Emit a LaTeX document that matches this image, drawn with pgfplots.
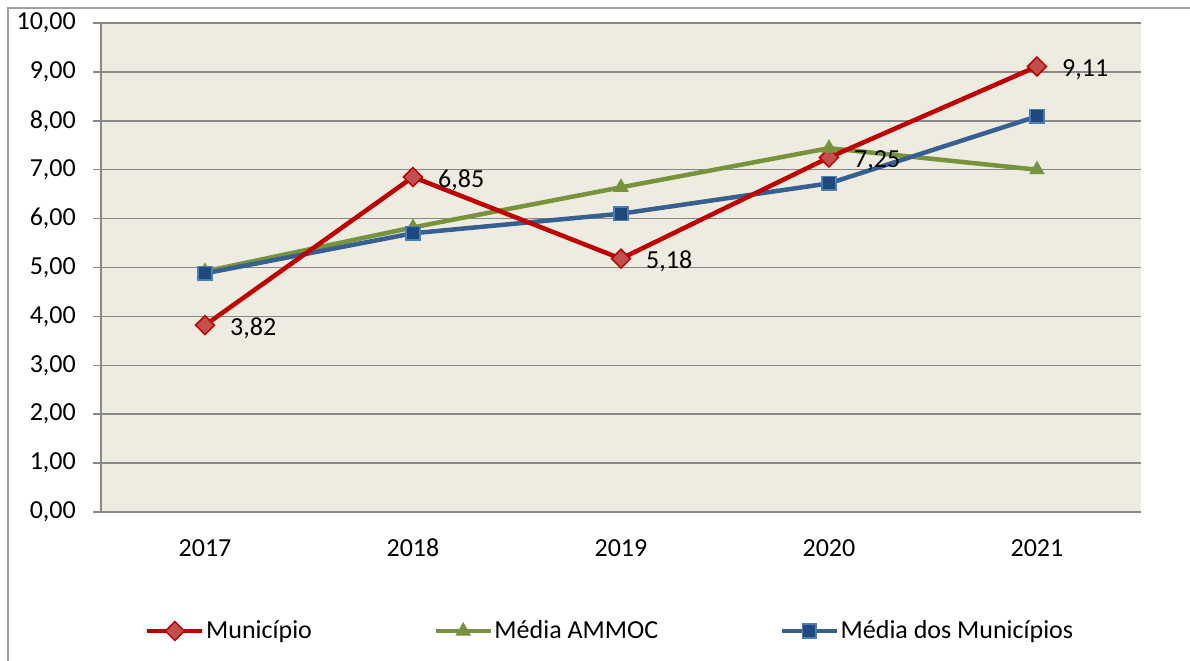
\documentclass[border=0pt]{standalone}
\usepackage{pgfplots}
\pgfplotsset{compat=1.18}
\usepackage{fontspec}
\setmainfont{Carlito}
\definecolor{bgc}{HTML}{EEECE1}
\definecolor{redl}{HTML}{C00000}
\definecolor{redm}{HTML}{C0504D}
\definecolor{greenl}{HTML}{77933C}
\definecolor{bluel}{HTML}{376092}
\definecolor{bluem}{HTML}{1F497D}
\definecolor{bluee}{HTML}{4A7EBB}
\definecolor{gridc}{HTML}{888888}
\definecolor{framec}{HTML}{A0A0A0}
\pgfplotsset{
  redleg/.style={legend image code/.code={\draw[redl, line width=4.5bp] (0bp,0bp) -- (55bp,0bp); \draw[##1] plot coordinates {(27.5bp,0bp)};}},
  greenleg/.style={legend image code/.code={\draw[greenl, line width=4.5bp] (0bp,0bp) -- (55bp,0bp); \draw[##1] plot coordinates {(27.5bp,0bp)};}},
  blueleg/.style={legend image code/.code={\draw[bluel, line width=4.5bp] (0bp,0bp) -- (55bp,0bp); \draw[##1] plot coordinates {(27.5bp,0bp)};}},
}
\begin{document}
\fontsize{26bp}{30bp}\selectfont
\begin{tikzpicture}
\useasboundingbox (0bp,0bp) rectangle (1190bp,661bp);
\draw[color=framec, line width=1.2bp] (8bp,-5bp) -- (8bp,653bp) -- (1195bp,653bp);
\begin{axis}[
  at={(101bp,149bp)}, anchor=south west,
  width=1040bp, height=489bp, scale only axis,
  xmin=-0.5, xmax=4.5, ymin=0, ymax=10,
  xtick={0,1,2,3,4}, xticklabels={2017,2018,2019,2020,2021},
  ytick={0,1,...,10},
  axis background/.style={fill=bgc},
  axis x line*=bottom, axis y line*=left,
  ymajorgrids, major grid style={gridc, line width=1.5bp},
  axis line style={gridc, line width=1.5bp},
  x tick style={draw=none},
  y tick style={gridc, line width=1.5bp},
  major tick length=8bp, tick align=outside,
  /pgf/number format/assume math mode=true,
  yticklabel style={/pgf/number format/use comma, /pgf/number format/fixed, /pgf/number format/fixed zerofill, /pgf/number format/precision=2, inner sep=0pt, xshift=-17bp},
  x tick label style={inner sep=0pt, yshift=-19bp},
  tick label style={font=\fontsize{26bp}{30bp}\selectfont},
  legend columns=3,
  legend style={at={(0.4894,-0.2434)}, anchor=center, draw=none, fill=none,
    font=\fontsize{26bp}{30bp}\selectfont, inner sep=0pt,
    nodes={inner sep=1.5bp},
    /tikz/every even column/.append style={column sep=120bp}},
  clip=false,
]
% lines
\addplot[forget plot, greenl, line width=4.5bp, mark=none] coordinates {(0,4.92) (1,5.82) (2,6.64) (3,7.44) (4,7.00)};
\addplot[forget plot, bluel, line width=4.5bp, mark=none] coordinates {(0,4.88) (1,5.70) (2,6.10) (3,6.72) (4,8.09)};
\addplot[forget plot, redl, line width=4.5bp, mark=none] coordinates {(0,3.82) (1,6.85) (2,5.18) (3,7.25) (4,9.11)};
% marks
\addplot[only marks, mark=square*, mark size=6.7bp, mark options={rotate=45, fill=redm, draw=redl, line width=1.5bp}, redleg]
  coordinates {(0,3.82) (1,6.85) (2,5.18) (3,7.25) (4,9.11)};
\addlegendentry{Município}
\addplot[only marks, mark=triangle*, mark size=8bp, mark options={fill=greenl, draw=greenl, line width=1bp}, greenleg]
  coordinates {(0,4.92) (1,5.82) (2,6.64) (3,7.44) (4,7.00)};
\addlegendentry{Média AMMOC}
\addplot[only marks, mark=square*, mark size=6.8bp, mark options={fill=bluem, draw=bluee, line width=1.5bp}, blueleg]
  coordinates {(0,4.88) (1,5.70) (2,6.10) (3,6.72) (4,8.09)};
\addlegendentry{Média dos Municípios}
% data labels
\addplot[forget plot, draw=none, mark=none, nodes near coords,
  nodes near coords style={anchor=west, xshift=25bp, yshift=-3bp, inner sep=0pt, text=black,
    font=\fontsize{26bp}{30bp}\selectfont,
    /pgf/number format/use comma, /pgf/number format/fixed, /pgf/number format/fixed zerofill, /pgf/number format/precision=2, /pgf/number format/assume math mode=true}]
  coordinates {(0,3.82) (1,6.85) (2,5.18) (3,7.25) (4,9.11)};
\end{axis}
\end{tikzpicture}
\end{document}
